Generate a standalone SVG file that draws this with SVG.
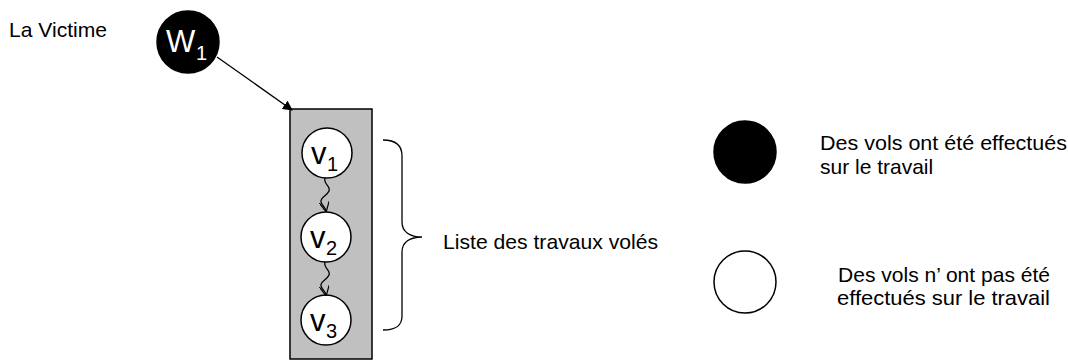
<svg xmlns="http://www.w3.org/2000/svg" width="1068" height="364" viewBox="0 0 1068 364">
<style>
text{font-family:"Liberation Sans",Arial,Helvetica,sans-serif;fill:#000}
.lbl{font-size:21px}
.big{font-size:31px}
.sub{font-size:20px}
.white{fill:#fff}
.node{stroke:#000;stroke-width:1.5}
.conn{fill:none;stroke:#000;stroke-width:1.3}
</style>
<defs>
<marker id="ah" viewBox="0 0 10 10" refX="9" refY="5" markerWidth="10" markerHeight="10" markerUnits="userSpaceOnUse" orient="auto">
<path d="M0,0 L10,5 L0,10 z" fill="#000"/>
</marker>
<marker id="oh" viewBox="0 0 10 10" refX="9" refY="5" markerWidth="10" markerHeight="10" markerUnits="userSpaceOnUse" orient="auto">
<path d="M0,0 L10,5 L0,10" fill="none" stroke="#000" stroke-width="1.2"/>
</marker>
</defs>
<rect width="1068" height="364" fill="#fff"/>
<text class="lbl" x="9" y="37" textLength="98" lengthAdjust="spacingAndGlyphs">La Victime</text>
<g id="w1">
<circle class="node" cx="188" cy="42" r="31" fill="#000"/>
<text class="big white" x="166" y="52">W</text>
<text class="sub white" x="196" y="60">1</text>
</g>
<g id="list">
<rect class="node" x="290" y="109" width="82" height="250" fill="#c0c0c0"/>
</g>
<g id="v1">
<circle class="node" cx="327" cy="153" r="25" fill="#fff"/>
<text class="big" x="311" y="164">v</text>
<text class="sub" x="327" y="171">1</text>
</g>
<g id="v2">
<circle class="node" cx="326" cy="237" r="25" fill="#fff"/>
<text class="big" x="310" y="248">v</text>
<text class="sub" x="326" y="255">2</text>
</g>
<g id="v3">
<circle class="node" cx="326" cy="320" r="25" fill="#fff"/>
<text class="big" x="310" y="331">v</text>
<text class="sub" x="326" y="338">3</text>
</g>
<g id="connectors">
<line class="conn" x1="217" y1="57" x2="292" y2="110" marker-end="url(#ah)"/>
<path class="conn" d="M325,178 C323,184 331,186 329,191 C327,196 320,197 321,202 C322,206 325,206 326,211" marker-end="url(#oh)"/>
<path class="conn" d="M325,262 C323,268 331,270 329,275 C327,280 320,281 321,286 C322,290 325,290 326,295" marker-end="url(#oh)"/>
</g>
<g id="brace">
<path class="conn" d="M383,140 C396,140 402,145 402,156 L402,222 C402,232 410,237 422,237 C410,237 402,242 402,252 L402,316 C402,326 396,330 383,330"/>
</g>
<text class="lbl" x="443" y="249" textLength="215" lengthAdjust="spacingAndGlyphs">Liste des travaux volés</text>
<g id="legend-stolen">
<circle class="node" cx="745" cy="152" r="31" fill="#000"/>
<text class="lbl" x="820" y="150" textLength="247" lengthAdjust="spacingAndGlyphs">Des vols ont été effectués</text>
<text class="lbl" x="820" y="174">sur le travail</text>
</g>
<g id="legend-notstolen">
<circle class="node" cx="745" cy="282" r="31" fill="#fff"/>
<text class="lbl" x="838" y="282" textLength="212" lengthAdjust="spacingAndGlyphs">Des vols n’ ont pas été</text>
<text class="lbl" x="837" y="305" textLength="213" lengthAdjust="spacingAndGlyphs">effectués sur le travail</text>
</g>
</svg>
